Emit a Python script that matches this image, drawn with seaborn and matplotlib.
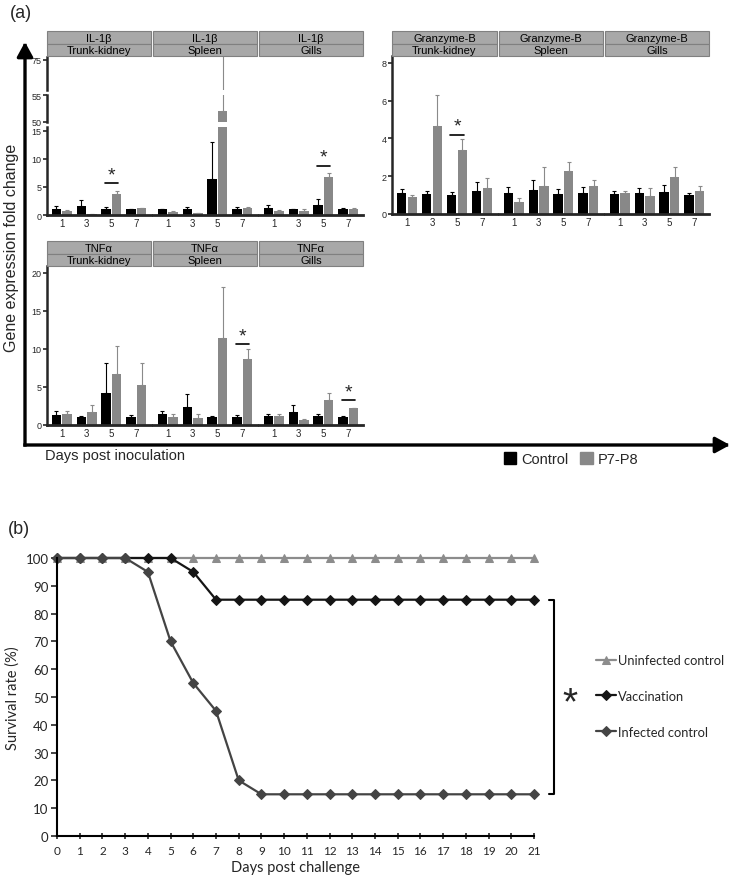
import pandas as pd
import matplotlib
matplotlib.use("Agg")
import matplotlib.pyplot as plt
from matplotlib.patches import Rectangle, FancyArrowPatch, Patch, ArrowStyle
import seaborn as sns

W, H = 735, 879

days = [1, 3, 5, 7]
tissues = ["Trunk-kidney", "Spleen", "Gills"]
groups = ["Control", "P7-P8"]

# fold change means and top of the error bar, one row per tissue
il1b_ctrl = [[1.1, 1.6, 1.1, 1.0], [1.0, 1.0, 6.5, 1.0], [1.2, 1.0, 1.8, 1.0]]
il1b_ctrl_top = [[1.6, 2.6, 1.5, 1.05], [1.1, 1.4, 13.0, 1.4], [1.7, 1.05, 2.9, 1.2]]
il1b_p78 = [[0.8, 0.2, 3.7, 1.2], [0.6, 0.3, 52.0, 1.25], [0.7, 0.7, 6.8, 1.0]]
il1b_p78_top = [[0.9, 0.25, 4.3, 1.25], [0.7, 0.4, 80.0, 1.4], [0.9, 1.1, 7.5, 1.2]]

gzmb_ctrl = [[1.1, 1.06, 1.03, 1.2], [1.1, 1.27, 1.06, 1.1], [1.06, 1.1, 1.17, 1.03]]
gzmb_ctrl_top = [[1.33, 1.24, 1.15, 1.7], [1.42, 1.8, 1.3, 1.42], [1.24, 1.38, 1.54, 1.1]]
gzmb_p78 = [[0.88, 4.64, 3.38, 1.38], [0.62, 1.47, 2.27, 1.47], [1.1, 0.97, 1.96, 1.2]]
gzmb_p78_top = [[1.03, 6.3, 3.95, 1.9], [0.84, 2.48, 2.74, 1.82], [1.24, 1.38, 2.48, 1.47]]

tnfa_ctrl = [[1.3, 1.1, 4.2, 1.1], [1.4, 2.35, 1.1, 1.1], [1.2, 1.65, 1.15, 1.1]]
tnfa_ctrl_top = [[1.9, 1.2, 8.1, 1.3], [1.9, 4.1, 1.2, 1.3], [1.5, 2.6, 1.5, 1.2]]
tnfa_p78 = [[1.4, 1.7, 6.7, 5.2], [1.1, 0.95, 11.5, 8.7], [1.2, 0.6, 3.3, 2.2]]
tnfa_p78_top = [[1.9, 2.6, 10.4, 8.2], [1.5, 1.4, 18.1, 10.0], [1.5, 0.8, 4.2, 2.3]]

# significance: (tissue index, day index, height of the bar line)
il1b_sig = [(0, 2, 5.7), (2, 2, 8.8)]
gzmb_sig = [(0, 2, 4.2)]
tnfa_sig = [(1, 3, 10.65), (2, 3, 3.25)]

# survival (b)
surv_days = list(range(22))
uninfected = [100, 100, 100, 100, 100, 100, 100, 100, 100, 100, 100,
              100, 100, 100, 100, 100, 100, 100, 100, 100, 100, 100]
vaccination = [100, 100, 100, 100, 100, 100, 95, 85, 85, 85, 85,
               85, 85, 85, 85, 85, 85, 85, 85, 85, 85, 85]
infected = [100, 100, 100, 100, 95, 70, 55, 45, 20, 15, 15,
            15, 15, 15, 15, 15, 15, 15, 15, 15, 15, 15]
surv_groups = ["Uninfected control", "Vaccination", "Infected control"]

sns.set_style("ticks")
plt.rcParams["font.family"] = ["Liberation Sans", "DejaVu Sans"]
FB = ["Lato", "DejaVu Sans"]

palette = {"Control": "#000000", "P7-P8": "#888888"}
err_color = {"Control": "#000000", "P7-P8": "#8a8a8a"}

fig = plt.figure(figsize=(W / 100, H / 100), dpi=100)


def place(x0, x1, ytop, ybot):
    return [x0 / W, 1 - ybot / H, (x1 - x0) / W, (ybot - ytop) / H]


def strip(x0, x1, ytop, gene, tissue):
    h = 12.5
    for i, txt in enumerate([gene, tissue]):
        y = ytop + i * h
        fig.add_artist(Rectangle((x0 / W, 1 - (y + h) / H), (x1 - x0) / W, h / H,
                                 transform=fig.transFigure, fc="#a8a8a8", ec="#808080", lw=0.8))
        fig.text((x0 + x1) / 2 / W, 1 - (y + h / 2 + 0.5) / H, txt, ha="center", va="center",
                 fontsize=8, color="black")


def draw_bars(ax, ctrl, ctrl_top, p78, p78_top):
    df = pd.DataFrame({"day": days * 2,
                       "group": ["Control"] * 4 + ["P7-P8"] * 4,
                       "value": ctrl + p78,
                       "top": ctrl_top + p78_top})
    sns.barplot(data=df, x="day", y="value", hue="group", hue_order=groups, palette=palette,
                width=0.86, gap=0.12, errorbar=None, legend=False, linewidth=0, ax=ax)
    for bar, (_, row) in zip(ax.patches, df.iterrows()):
        xc = bar.get_x() + bar.get_width() / 2
        ax.errorbar(xc, row["value"], yerr=[[0], [row["top"] - row["value"]]], fmt="none",
                    ecolor=err_color[row["group"]], elinewidth=0.8, capsize=1.3, capthick=0.8)
    ax.set_xlabel("")
    ax.set_ylabel("")


def style_axes(ax, left, bottom, yticks):
    sns.despine(ax=ax, left=not left, bottom=not bottom)
    ax.spines["left"].set_linewidth(1.8)
    ax.spines["bottom"].set_linewidth(2.0)
    ax.set_facecolor("none")
    if left:
        ax.set_yticks(yticks)
        ax.tick_params(axis="y", length=3, width=1.2, labelsize=6.5, pad=1)
    else:
        ax.set_yticks([])
    if bottom:
        ax.tick_params(axis="x", length=0, labelsize=7, pad=2)
    else:
        ax.set_xticks([])


def add_sig(ax, day_idx, y):
    ax.plot([day_idx - 0.27, day_idx + 0.27], [y, y], color="black", lw=1.2)
    ax.text(day_idx, y, "*", ha="center", va="bottom", fontsize=14)


left_x = [(47, 151), (153, 257), (259, 363)]
right_x = [(392, 497), (499, 603), (605, 709)]

# IL-1beta with broken y axis
for t, (x0, x1) in enumerate(left_x):
    strip(x0, x1, 32, "IL-1β", tissues[t])
    parts = [(128, 216, (0, 15.7), [0, 5, 10, 15]),
             (96, 123, (50, 55), [50, 55]),
             (58, 91, (55, 77), [75])]
    for k, (yt, yb, lim, ticks) in enumerate(parts):
        ax = fig.add_axes(place(x0, x1, yt, yb))
        draw_bars(ax, il1b_ctrl[t], il1b_ctrl_top[t], il1b_p78[t], il1b_p78_top[t])
        ax.set_ylim(*lim)
        style_axes(ax, t == 0, k == 0, ticks)
        if k == 0:
            for ti, di, y in il1b_sig:
                if ti == t:
                    add_sig(ax, di, y)

# Granzyme-B
for t, (x0, x1) in enumerate(right_x):
    strip(x0, x1, 32, "Granzyme-B", tissues[t])
    ax = fig.add_axes(place(x0, x1, 57, 215))
    draw_bars(ax, gzmb_ctrl[t], gzmb_ctrl_top[t], gzmb_p78[t], gzmb_p78_top[t])
    ax.set_ylim(0, 8.36)
    style_axes(ax, t == 0, True, [0, 2, 4, 6, 8])
    for ti, di, y in gzmb_sig:
        if ti == t:
            add_sig(ax, di, y)

# TNF-alpha
for t, (x0, x1) in enumerate(left_x):
    strip(x0, x1, 242, "TNFα", tissues[t])
    ax = fig.add_axes(place(x0, x1, 267, 426))
    draw_bars(ax, tnfa_ctrl[t], tnfa_ctrl_top[t], tnfa_p78[t], tnfa_p78_top[t])
    ax.set_ylim(0, 20.9)
    style_axes(ax, t == 0, True, [0, 5, 10, 15, 20])
    for ti, di, y in tnfa_sig:
        if ti == t:
            add_sig(ax, di, y)

# big axis arrows of panel (a)
head = ArrowStyle("-|>", head_length=0.55, head_width=0.3)
for end in [(25 / W, 1 - 43 / H), (730 / W, 1 - 446 / H)]:
    fig.add_artist(FancyArrowPatch((25 / W, 1 - 446 / H), end, transform=fig.transFigure,
                                   arrowstyle=head, mutation_scale=16, lw=2.4, color="black",
                                   shrinkA=0, shrinkB=0, capstyle="projecting"))

fig.text(10 / W, 1 - 13 / H, "(a)", fontsize=13, va="center", ha="left")
fig.text(12 / W, 1 - 248 / H, "Gene expression fold change", rotation=90,
         fontsize=11.5, ha="center", va="center")
fig.text(45 / W, 1 - 456 / H, "Days post inoculation", fontsize=10.5, ha="left", va="center")
fig.legend(handles=[Patch(color=palette[g]) for g in groups], labels=groups,
           loc="center", bbox_to_anchor=(571 / W, 1 - 460 / H), ncol=2, frameon=False,
           handlelength=0.85, handleheight=0.85, handletextpad=0.35, columnspacing=0.8,
           fontsize=10.5, borderpad=0)

# panel (b)
surv = pd.DataFrame({"day": surv_days * 3,
                     "rate": uninfected + vaccination + infected,
                     "group": [g for g in surv_groups for _ in surv_days]})
surv_pal = {"Uninfected control": "#8c8c8c", "Vaccination": "#151515",
            "Infected control": "#444444"}
axb = fig.add_axes(place(57, 534, 559, 837))
sns.lineplot(data=surv, x="day", y="rate", hue="group", hue_order=surv_groups,
             style="group", style_order=surv_groups,
             markers={"Uninfected control": "^", "Vaccination": "D", "Infected control": "D"},
             dashes=False, palette=surv_pal, linewidth=1.6, markersize=5.5, ax=axb)
for line in axb.lines:
    line.set_markeredgecolor(line.get_color())
    line.set_clip_on(False)
handles, labels = axb.get_legend_handles_labels()
axb.get_legend().remove()
for h_ in handles:
    h_.set_markeredgecolor(h_.get_color())
    h_.set_markersize(5.5)
    h_.set_linewidth(1.6)
fig.legend(handles, labels, loc="center left", bbox_to_anchor=(590 / W, 1 - 697 / H),
           frameon=False, handlelength=1.55, handletextpad=0.15,
           labelspacing=1.85, borderpad=0, prop={"family": FB, "size": 9.3})

axb.set_xlim(0, 21)
axb.set_ylim(0, 100)
axb.set_xticks(surv_days)
axb.set_yticks(range(0, 101, 10))
sns.despine(ax=axb)
for s in ["left", "bottom"]:
    axb.spines[s].set_linewidth(1.5)
    axb.spines[s].set_color("black")
axb.tick_params(axis="x", direction="inout", length=5, width=1.2, labelsize=8.5, pad=4)
axb.tick_params(axis="y", direction="out", length=4, width=1.2, labelsize=9.5, pad=2)
for lab in axb.get_xticklabels() + axb.get_yticklabels():
    lab.set_family(FB)
axb.set_xlabel("Days post challenge", fontsize=10.5, family=FB, labelpad=3)
axb.set_ylabel("Survival rate (%)", fontsize=10.5, family=FB, labelpad=4)

# bracket between vaccination and infected control
axb.plot([21.65, 21.9, 21.9, 21.65], [85, 85, 15, 15], color="black", lw=1.5, clip_on=False)
fig.text(570 / W, 1 - 704 / H, "*", fontsize=28, ha="center", va="center")

fig.text(8 / W, 1 - 530 / H, "(b)", fontsize=13, va="center", ha="left")

fig.savefig("out.png", dpi=100)
